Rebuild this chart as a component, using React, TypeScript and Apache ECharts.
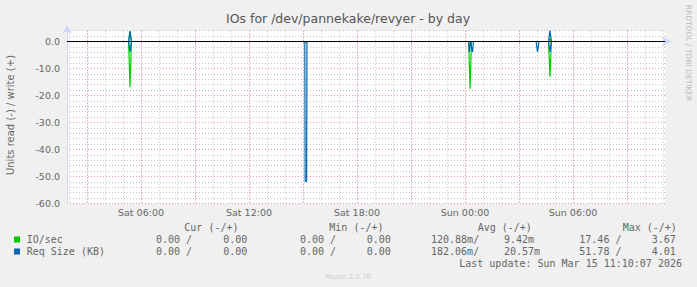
import React, { useEffect, useRef } from 'react';
import * as echarts from 'echarts';

// X values are hours counted from Sat 00:00
const xMin = 1.889;
const xMax = 35.111;
const hourGrid = [2, 3, 4, 5, 6, 7, 8, 9, 10, 11, 12, 13, 14, 15, 16, 17, 18, 19, 20, 21, 22, 23, 24, 25, 26, 27, 28, 29, 30, 31, 32, 33, 34, 35];
const majorHours = [3, 6, 9, 12, 15, 18, 21, 24, 27, 30, 33];
const labelHours = [6, 12, 18, 24, 30];
const dayNames = ['Sat', 'Sun'];

const yMin = -60;
const yMax = 4;
const minorValues = [-60, -58, -56, -54, -52, -50, -48, -46, -44, -42, -40, -38, -36, -34, -32, -30, -28, -26, -24, -22, -20, -18, -16, -14, -12, -10, -8, -6, -4, -2, 0, 2, 4];
const majorValues = [-60, -50, -40, -30, -20, -10, 0];

// IO/sec (read negative, write positive)
const ioRead: [number, number][] = [
  [1.889, 0], [5.31, 0], [5.39, -16.9], [5.47, 0], [15.1, 0], [15.15, -0.4], [15.2, 0],
  [24.2, 0], [24.28, -17.46], [24.36, 0], [28.64, 0], [28.72, -13.1], [28.8, 0], [35.111, 0],
];
const ioWrite: [number, number][] = [
  [1.889, 0], [5.31, 0], [5.39, 3.67], [5.47, 0], [28.64, 0], [28.72, 1.2], [28.8, 0], [35.111, 0],
];
// Req Size (KB)
const reqRead: [number, number][] = [
  [1.889, 0], [5.31, 0], [5.39, -3.9], [5.47, 0], [15.1, 0], [15.12, -51.78], [15.2, -51.78], [15.22, 0],
  [24.2, 0], [24.25, -3.9], [24.3, 0], [24.42, -3.9], [24.47, 0], [27.95, 0], [28.03, -3.9], [28.11, 0],
  [28.64, 0], [28.72, -3.9], [28.8, 0], [35.111, 0],
];
const reqWrite: [number, number][] = [
  [1.889, 0], [5.31, 0], [5.39, 3.9], [5.47, 0], [28.64, 0], [28.72, 4.01], [28.8, 0], [35.111, 0],
];

const seriesNames = ['IO/sec', 'Req Size (KB)'];
const seriesColors = ['#00CC00', '#0066B3'];
const legendHeaders = ['Cur (-/+)', 'Min (-/+)', 'Avg (-/+)', 'Max (-/+)'];
const legendRows = [
  ['0.00 /', '0.00', '0.00 /', '0.00', '120.88m/', '9.42m', '17.46 /', '3.67'],
  ['0.00 /', '0.00', '0.00 /', '0.00', '182.06m/', '20.57m', '51.78 /', '4.01'],
];
const lastUpdate = 'Last update: Sun Mar 15 11:10:07 2026';
const title = 'IOs for /dev/pannekake/revyer - by day';
const yName = 'Units read (-) / write (+)';
const sideText = 'RRDTOOL / TOBI OETIKER';
const footer = 'Munin 2.0.76';

const FONT = '"DejaVu Sans", sans-serif';
const MONO = '"DejaVu Sans Mono", monospace';
const TXT = '#666666';
const AXIS = '#CFD6F8';
const GRAY = '#c4c4c4';
const RED = '#e89999';

export default function App() {
  const ref = useRef<HTMLDivElement>(null);
  useEffect(() => {
    if (!ref.current) return;
    const chart = echarts.init(ref.current, null, { renderer: 'svg' });

    const headerX = [184.3, 329.3, 477.7, 622.7];
    const colX = [156, 223.3, 300, 366.7, 431, 504, 579.3, 651.7];
    const rowY = [239.5, 251.5];
    const graphics: any[] = [];
    graphics.push({ type: 'text', x: 348, y: 18.5, style: { text: title, font: `12.5px ${FONT}`, fill: '#555', align: 'center', verticalAlign: 'middle' } });
    graphics.push({ type: 'text', x: 10, y: 115, rotation: Math.PI / 2, style: { text: yName, font: `10px ${FONT}`, fill: TXT, align: 'center', verticalAlign: 'middle' } });
    graphics.push({ type: 'text', x: 688, y: 53, rotation: -Math.PI / 2, style: { text: sideText, font: `7.5px ${FONT}`, fill: '#bbbbbb', align: 'center', verticalAlign: 'middle' } });
    legendHeaders.forEach((h, i) => {
      graphics.push({ type: 'text', x: headerX[i], y: 227.5, style: { text: h, font: `10px ${MONO}`, fill: TXT, align: 'left', verticalAlign: 'middle' } });
    });
    seriesNames.forEach((n, r) => {
      graphics.push({ type: 'rect', shape: { x: 14, y: rowY[r] - 3, width: 6, height: 6 }, style: { fill: seriesColors[r] } });
      graphics.push({ type: 'text', x: 26.7, y: rowY[r], style: { text: n, font: `10px ${MONO}`, fill: TXT, align: 'left', verticalAlign: 'middle' } });
      legendRows[r].forEach((t, c) => {
        graphics.push({ type: 'text', x: colX[c], y: rowY[r], style: { text: t, font: `10px ${MONO}`, fill: TXT, align: 'left', verticalAlign: 'middle' } });
      });
    });
    graphics.push({ type: 'text', x: 682, y: 263.5, style: { text: lastUpdate, font: `10px ${MONO}`, fill: TXT, align: 'right', verticalAlign: 'middle' } });
    graphics.push({ type: 'text', x: 348, y: 277, style: { text: footer, font: `7px ${FONT}`, fill: '#cccccc', align: 'center', verticalAlign: 'middle' } });

    const lineSeries = (data: [number, number][], color: string, z: number) => ({
      type: 'line', data, xAxisIndex: 0, yAxisIndex: 0, showSymbol: false, symbol: 'none',
      lineStyle: { color, width: 1.2 }, z, silent: true,
    });

    chart.setOption({
      animation: false,
      backgroundColor: '#F0F0F0',
      grid: { left: 67, right: 32, top: 30.7, bottom: 83.5, show: true, backgroundColor: '#ffffff', borderWidth: 0 },
      xAxis: [
        {
          type: 'value', min: xMin, max: xMax, position: 'bottom',
          axisLine: { show: true, lineStyle: { color: AXIS, width: 1 }, symbol: ['none', 'arrow'], symbolSize: [7, 9], symbolOffset: [0, 6] },
          axisTick: { show: true, customValues: hourGrid, length: 0, lineStyle: { color: 'rgba(0,0,0,0)' } },
          axisLabel: { show: false },
          splitLine: { show: true, lineStyle: { color: GRAY, type: [1, 2], width: 1 } },
        },
        {
          type: 'value', min: xMin, max: xMax, position: 'bottom',
          axisLine: { show: false },
          axisTick: { show: true, customValues: majorHours, length: 3, lineStyle: { color: '#f0a0a0' } },
          axisLabel: {
            show: true, customValues: labelHours, margin: 4, color: TXT, fontFamily: FONT, fontSize: 9.5,
            formatter: (v: number) => `${dayNames[Math.floor(v / 24)]} ${String(v % 24).padStart(2, '0')}:00`,
          },
          splitLine: { show: true, lineStyle: { color: RED, type: [1, 2], width: 1 } },
        },
      ],
      yAxis: [
        {
          type: 'value', min: yMin, max: yMax, position: 'left',
          axisLine: { show: true, lineStyle: { color: AXIS, width: 1 }, symbol: ['none', 'arrow'], symbolSize: [7, 9], symbolOffset: [0, 6] },
          axisTick: { show: true, customValues: minorValues, length: 0, lineStyle: { color: 'rgba(0,0,0,0)' } },
          axisLabel: { show: false },
          splitLine: { show: true, lineStyle: { color: GRAY, type: [1, 2], width: 1 } },
        },
        {
          type: 'value', min: yMin, max: yMax, position: 'left',
          axisLine: { show: false },
          axisTick: { show: true, customValues: majorValues, length: 0, lineStyle: { color: 'rgba(0,0,0,0)' } },
          axisLabel: {
            show: true, customValues: majorValues, margin: 7, color: TXT, fontFamily: FONT, fontSize: 9.5,
            formatter: (v: number) => v.toFixed(1),
          },
          splitLine: { show: true, lineStyle: { color: RED, type: [1, 2], width: 1 } },
        },
      ],
      series: [
        lineSeries(ioRead, seriesColors[0], 3),
        lineSeries(ioWrite, seriesColors[0], 3),
        lineSeries(reqRead, seriesColors[1], 4),
        lineSeries(reqWrite, seriesColors[1], 4),
        {
          type: 'line', data: [], xAxisIndex: 0, yAxisIndex: 0, z: 6, silent: true,
          markLine: {
            silent: true, symbol: 'none', label: { show: false },
            lineStyle: { color: '#000000', type: 'solid', width: 1 },
            data: [{ yAxis: 0 }],
          },
        },
      ],
      graphic: graphics,
    });
    return () => chart.dispose();
  }, []);
  return <div ref={ref} style={{ width: 697, height: 287, position: 'absolute', left: 0, top: 0 }} />;
}
